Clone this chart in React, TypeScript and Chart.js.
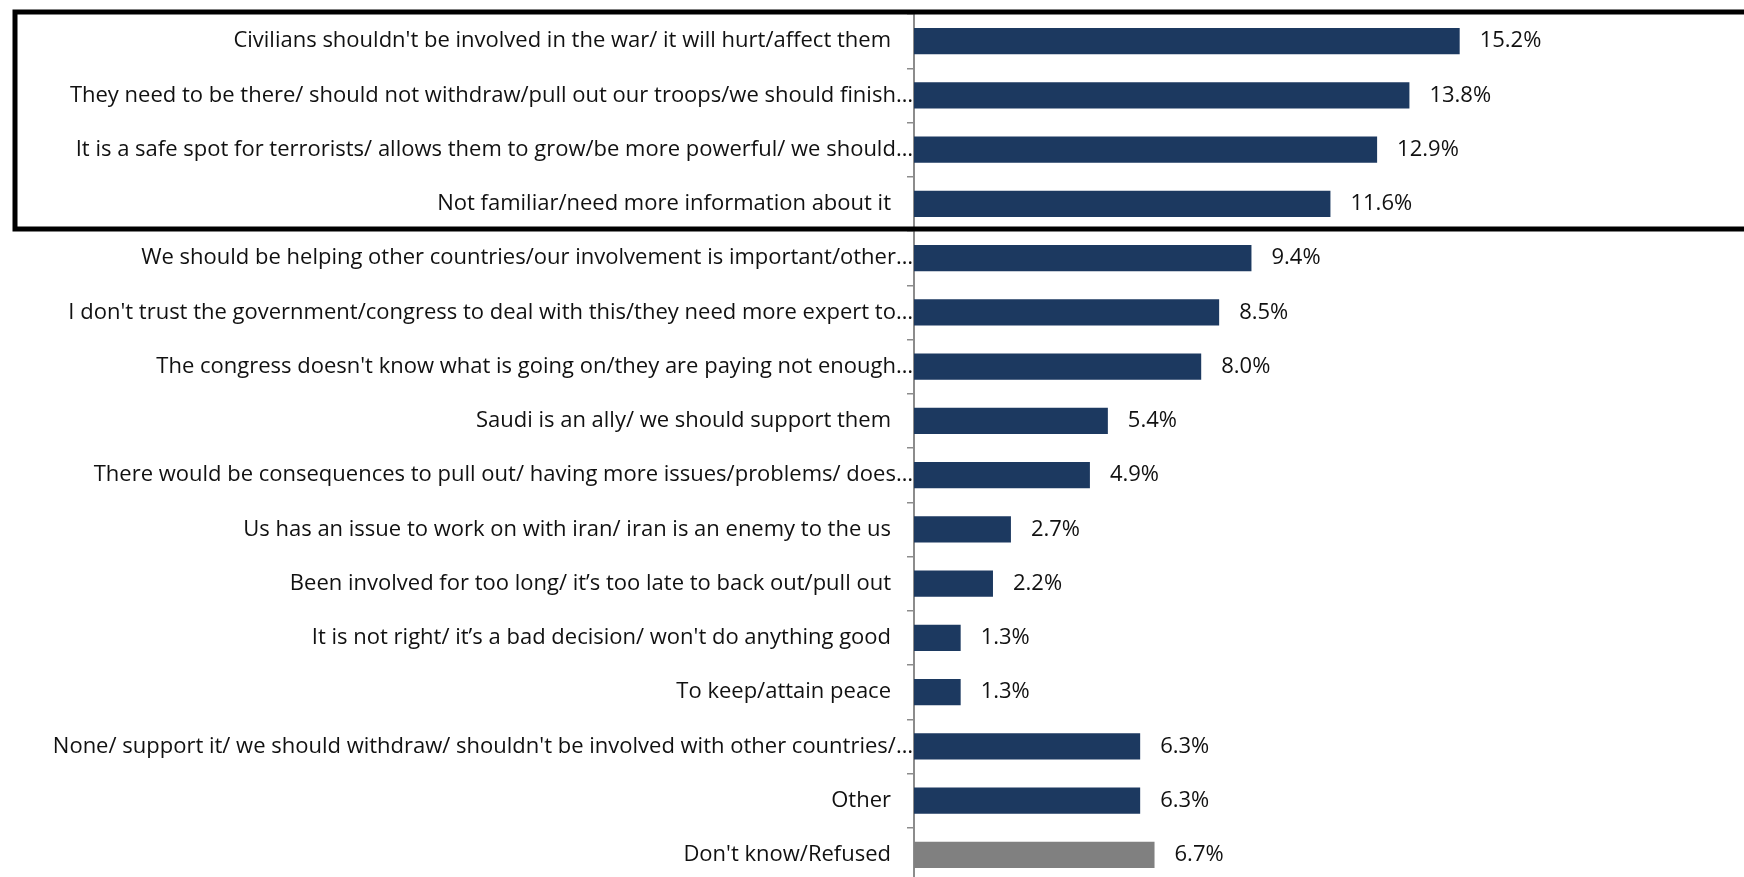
import React, { useEffect, useRef } from "react";
import { Chart, registerables } from "chart.js";

Chart.register(...registerables);

const categories: string[] = [
  "Civilians shouldn't be involved in the war/ it will hurt/affect them",
  "They need to be there/ should not withdraw/pull out our troops/we should finish…",
  "It is a safe spot for terrorists/ allows them to grow/be more powerful/ we should…",
  "Not familiar/need more information about it",
  "We should be helping other countries/our involvement is important/other…",
  "I don't trust the government/congress to deal with this/they need more expert to…",
  "The congress doesn't know what is going on/they are paying not enough…",
  "Saudi is an ally/ we should support them",
  "There would be consequences to pull out/ having more issues/problems/ does…",
  "Us has an issue to work on with iran/ iran is an enemy to the us",
  "Been involved for too long/ it’s too late to back out/pull out",
  "It is not right/ it’s a bad decision/ won't do anything good",
  "To keep/attain peace",
  "None/ support it/ we should withdraw/ shouldn't be involved with other countries/…",
  "Other",
  "Don't know/Refused",
];

const values: number[] = [15.2, 13.8, 12.9, 11.6, 9.4, 8.5, 8.0, 5.4, 4.9, 2.7, 2.2, 1.3, 1.3, 6.3, 6.3, 6.7];

const NAVY = "#1c3960";
const GRAY = "#808080";
const barColors: string[] = categories.map((c) => (c === "Don't know/Refused" ? GRAY : NAVY));

const FONT = "'Open Sans', Lato, sans-serif";
const FONT_SIZE = 22;

const categoryLabelsPlugin = {
  id: "categoryLabels",
  afterDatasetsDraw(chart: any) {
    const ctx = chart.ctx;
    const y = chart.scales.y;
    const left = chart.chartArea.left;
    ctx.save();
    ctx.font = `${FONT_SIZE}px ${FONT}`;
    ctx.fillStyle = "#111";
    ctx.textAlign = "right";
    ctx.textBaseline = "middle";
    categories.forEach((label, i) => {
      const py = y.getPixelForValue(i);
      const truncated = label.endsWith("…");
      const px = truncated ? left - 1 : left - 23;
      ctx.fillText(label, px, py);
    });
    ctx.restore();
  },
};

const valueLabelsPlugin = {
  id: "valueLabels",
  afterDatasetsDraw(chart: any) {
    const ctx = chart.ctx;
    const meta = chart.getDatasetMeta(0);
    ctx.save();
    ctx.font = `${FONT_SIZE}px ${FONT}`;
    ctx.fillStyle = "#111";
    ctx.textAlign = "left";
    ctx.textBaseline = "middle";
    meta.data.forEach((bar: any, i: number) => {
      ctx.fillText(`${values[i].toFixed(1)}%`, bar.x + 20, bar.y);
    });
    ctx.restore();
  },
};

const highlightBoxPlugin = {
  id: "highlightBox",
  afterDraw(chart: any) {
    const ctx = chart.ctx;
    const y = chart.scales.y;
    const band = y.getPixelForValue(1) - y.getPixelForValue(0);
    const top = y.getPixelForValue(0) - band / 2 - 2;
    const bottom = y.getPixelForValue(3) + band / 2 - 2;
    ctx.save();
    ctx.strokeStyle = "#000";
    ctx.lineWidth = 5;
    ctx.strokeRect(15, top, chart.width + 20, bottom - top);
    ctx.restore();
  },
};

export default function App() {
  const canvasRef = useRef<HTMLCanvasElement | null>(null);

  useEffect(() => {
    if (!canvasRef.current) return;
    const chart = new Chart(canvasRef.current, {
      type: "bar",
      data: {
        labels: categories,
        datasets: [
          {
            data: values,
            backgroundColor: barColors,
            borderWidth: 0,
            barPercentage: 0.485,
            categoryPercentage: 1,
          },
        ],
      },
      options: {
        indexAxis: "y",
        animation: false,
        responsive: false,
        devicePixelRatio: 1,
        layout: { padding: { left: 0, right: 112, top: 14, bottom: 0 } },
        plugins: {
          legend: { display: false },
          tooltip: { enabled: false },
          title: { display: false },
        },
        scales: {
          x: {
            type: "linear",
            min: 0,
            max: 20,
            display: false,
          },
          y: {
            type: "category",
            offset: true,
            ticks: { display: false },
            grid: {
              display: true,
              drawOnChartArea: false,
              drawTicks: true,
              tickLength: 7,
              offset: true,
              color: "#8c8c8c",
              lineWidth: 1.5,
            },
            border: { display: true, color: "#8c8c8c", width: 2 },
            afterFit(scale: any) {
              scale.width = 914;
              scale.paddingTop = 0;
              scale.paddingBottom = 0;
            },
          },
        },
      },
      plugins: [categoryLabelsPlugin, valueLabelsPlugin, highlightBoxPlugin],
    } as any);
    return () => chart.destroy();
  }, []);

  return (
    <div style={{ position: "absolute", left: 0, top: 0, width: 1744, height: 877, overflow: "hidden", background: "#fff" }}>
      <canvas ref={canvasRef} width={1744} height={882} style={{ display: "block", width: 1744, height: 882 }} />
    </div>
  );
}
